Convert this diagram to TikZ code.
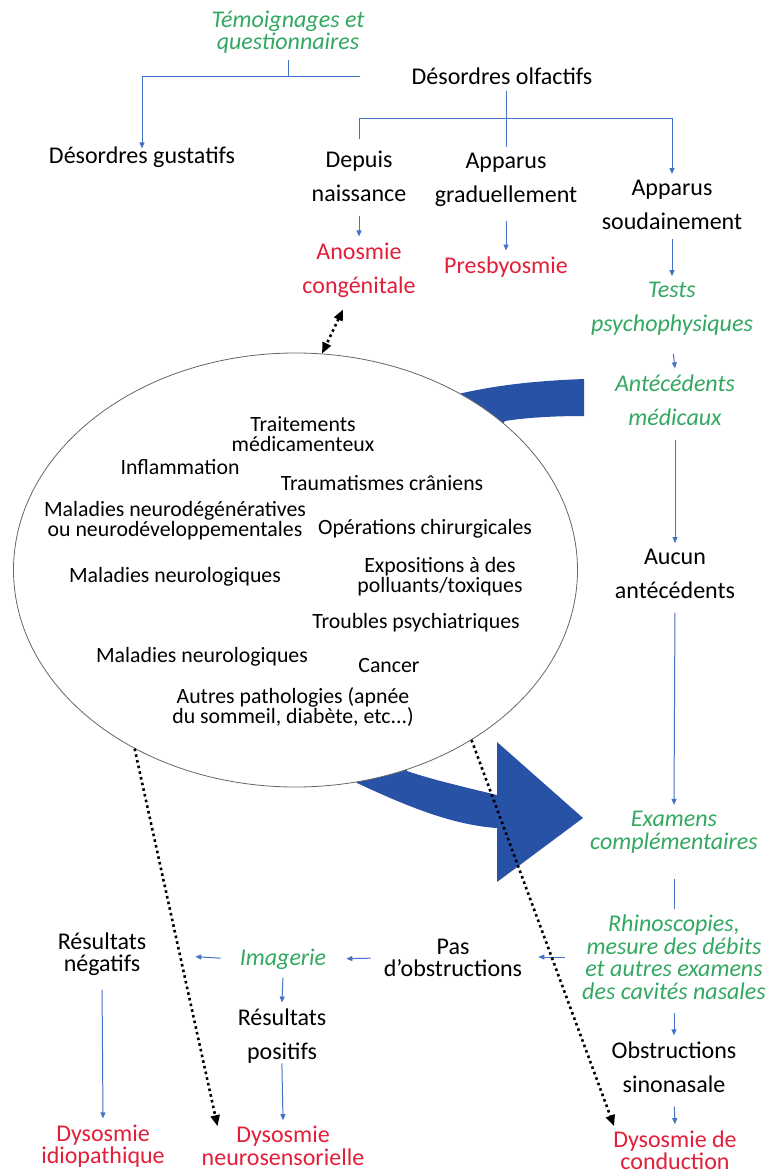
\documentclass[tikz,border=0pt]{standalone}
\usepackage{fontspec}
\setmainfont{Carlito}
\usetikzlibrary{shapes.geometric,arrows.meta}
\definecolor{ogreen}{RGB}{50,168,96}
\definecolor{ored}{RGB}{226,30,56}
\definecolor{oblue}{RGB}{68,114,196}
\definecolor{bigblue}{RGB}{40,82,165}

\begin{document}
\begin{tikzpicture}[x=1pt,y=-1pt,
    wide/.style={align=center,inner sep=6pt,font=\fontsize{24}{34}\selectfont},
    tight/.style={align=center,inner sep=6pt,font=\fontsize{24}{22.5}\selectfont},
    small/.style={align=center,inner sep=1pt,font=\fontsize{21.8}{20}\selectfont},
    grn/.style={text=ogreen,execute at begin node=\itshape},
    rd/.style={text=ored},
    line/.style={draw=oblue,line width=1pt},
    arr/.style={line,shorten <=8pt,-{Triangle[length=6pt,width=5pt]}},
    dots/.style={line width=2.6pt,dash pattern=on 2.6pt off 3.2pt},
    dotarr/.style={dots,-{Triangle[length=11pt,width=9pt]}},
    dotboth/.style={dots,{Triangle[length=11pt,width=9pt]}-{Triangle[length=11pt,width=9pt]}}]
    \useasboundingbox (0,0) rectangle (773,1173);

    %% big curved arrow, hidden part under the ellipse
    \fill[bigblue] (584,379) .. controls (530,381) and (490,386) .. (450,396) -- (250,600)
        -- (357,783) .. controls (400,803) and (450,825) .. (497,828) -- (497,882) -- (583,818)
        -- (497,742) -- (497,795) .. controls (460,786) and (430,779) .. (407,771) -- (360,600)
        -- (505,421) .. controls (530,417) and (560,416) .. (584,416) -- cycle;
    \node[draw=black!60,line width=0.8pt,ellipse,fill=white,minimum width=564,minimum height=434,inner sep=0] (ell) at (295.5,570) {};

    %% top
    \node[tight,grn] (tem) at (288,32) {Témoignages et\\questionnaires};
    \node[wide] (olf) at (502,76) {Désordres olfactifs};
    \node[wide] (gust) at (142,157) {Désordres gustatifs};
    \node[wide] (dep) at (359,176) {Depuis\\naissance};
    \node[wide] (grad) at (506,180) {Apparus\\graduellement};
    \node[wide] (soud) at (672,205) {Apparus\\soudainement};
    \node[wide,rd] (anos) at (359,270) {Anosmie\\congénitale};
    \node[wide,rd] (pres) at (506,267) {Presbyosmie};
    \node[wide,grn] (tests) at (672,309) {Tests\\psychophysiques};
    \node[wide,grn] (ant) at (675,400) {Antécédents\\médicaux};
    \node[wide] (aucun) at (675,574) {Aucun\\antécédents};
    \node[tight,grn] (exam) at (674,832) {Examens\\complémentaires};
    \node[tight,grn] (rhino) at (674,957) {Rhinoscopies,\\mesure des débits\\et autres examens\\des cavités nasales};
    \node[wide] (obst) at (674,1067) {Obstructions\\sinonasale};
    \node[tight,rd] (cond) at (675,1150) {Dysosmie de\\conduction};
    %% bottom left
    \node[tight] (pas) at (453,958) {Pas\\d’obstructions};
    \node[tight,grn] (imag) at (283,959) {Imagerie};
    \node[tight] (neg) at (102,954) {Résultats\\négatifs};
    \node[wide] (pos) at (282,1036) {Résultats\\positifs};
    \node[tight,rd] (idio) at (103,1146) {Dysosmie\\idiopathique};
    \node[tight,rd] (neuro) at (283,1146) {Dysosmie\\neurosensorielle};

    %% inside the ellipse
    \node[small] (trait) at (303,434) {Traitements\\médicamenteux};
    \node[small] (infl) at (180,467) {Inflammation};
    \node[small] (trau) at (382,483) {Traumatismes crâniens};
    \node[small] (mdeg) at (175,521) {Maladies neurodégénératives\\ou neurodéveloppementales};
    \node[small] (oper) at (425,529) {Opérations chirurgicales};
    \node[small] (mneur1) at (175,577) {Maladies neurologiques};
    \node[small] (expo) at (440,577) {Expositions à des\\polluants/toxiques};
    \node[small] (troub) at (416,623) {Troubles psychiatriques};
    \node[small] (mneur2) at (202,657) {Maladies neurologiques};
    \node[small] (canc) at (389,665) {Cancer};
    \node[small] (autr) at (293,707) {Autres pathologies (apnée\\du sommeil, diabète, etc...)};

    %% branches
    \coordinate (j1) at (360,76);
    \coordinate (j2) at (506,118);
    \draw[line] (tem.south) -- (tem.south |- j1);
    \draw[arr,shorten <=0pt,shorten >=-8pt] (j1) -| (gust.north);
    \draw[line] (grad.north |- olf.south) -- (grad.north);
    \draw[arr,shorten <=5pt] (dep.north) |- (j2 -| soud.north) -- (soud.north);
    %% right column
    \draw[arr] (dep.south) -- (anos.north);
    \draw[arr] (grad.south) -- (pres.north);
    \draw[arr,shorten <=3pt] (soud.south) -- (tests.north);
    \draw[arr,shorten <=12pt] (tests.south) -- (ant.north);
    \draw[arr] (ant.south) -- (aucun.north);
    \draw[arr] (aucun.south) -- (exam.north);
    \draw[line,shorten <=20pt] (exam.south) -- (rhino.north);
    \draw[arr] (rhino.south) -- (obst.north);
    \draw[arr] (obst.south) -- (cond.north);
    %% leftwards
    \draw[arr,shorten <=11pt,shorten >=10pt] (rhino.west) -- (rhino.west -| pas.east);
    \draw[arr,shorten <=7pt,shorten >=14pt] (pas.west) -- (imag.east);
    \draw[arr,shorten <=13pt,shorten >=43pt] (imag.west) -- (neg.east);
    \draw[arr,shorten <=2pt] (imag.south) -- (pos.north);
    \draw[arr] (neg.south) -- (idio.north);
    \draw[arr,shorten <=-6pt] (pos.south) -- (neuro.north);

    %% dotted links
    \draw[dotboth] ([xshift=-16pt,yshift=-6pt]anos.south) -- (ell.83);
    \draw[dotarr] (ell.228) -- ([xshift=22pt,yshift=-6pt]neuro.north west);
    \draw[dotarr] (ell.316) -- ([xshift=7pt,yshift=-2pt]cond.north west);
\end{tikzpicture}
\end{document}
